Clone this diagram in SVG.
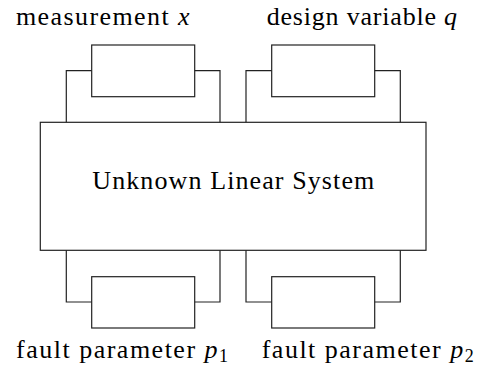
<svg xmlns="http://www.w3.org/2000/svg" width="481" height="371" viewBox="0 0 481 371">
  <rect width="481" height="371" fill="#fff"/>

  <!-- loops joining each side block to the system box -->
  <g id="connectors" fill="none" stroke="#222" stroke-width="1.2">
    <polyline points="66.3,122.3 66.3,70.7 91.7,70.7"/>
    <polyline points="194.7,70.7 220,70.7 220,122.3"/>
    <polyline points="246,122.3 246,70.7 271.7,70.7"/>
    <polyline points="374.7,70.7 400.3,70.7 400.3,122.3"/>
    <polyline points="66.3,250.3 66.3,302 91.7,302"/>
    <polyline points="194.7,302 220,302 220,250.3"/>
    <polyline points="246,250.3 246,302 271.7,302"/>
    <polyline points="374.7,302 400.3,302 400.3,250.3"/>
  </g>

  <g id="system">
    <rect x="40.3" y="122.3" width="385.7" height="128" fill="none" stroke="#222" stroke-width="1.2"/>
    <text font-family="Times New Roman, serif" font-size="26" x="92.3" y="189.3" letter-spacing="1.1">Unknown Linear System</text>
  </g>

  <g id="measurement">
    <rect x="91.7" y="45" width="103" height="51.7" fill="none" stroke="#222" stroke-width="1.2"/>
    <text font-family="Times New Roman, serif" font-size="26" x="16" y="25" letter-spacing="1.4">measurement <tspan font-style="italic">x</tspan></text>
  </g>

  <g id="design">
    <rect x="271.7" y="45" width="103" height="51.7" fill="none" stroke="#222" stroke-width="1.2"/>
    <text font-family="Times New Roman, serif" font-size="26" x="266.7" y="25" letter-spacing="0.8">design variable <tspan font-style="italic">q</tspan></text>
  </g>

  <g id="fault1">
    <rect x="91.7" y="276.7" width="103" height="51.3" fill="none" stroke="#222" stroke-width="1.2"/>
    <text font-family="Times New Roman, serif" font-size="26" x="16" y="358.3" letter-spacing="1.5">fault parameter <tspan font-style="italic">p</tspan><tspan font-size="18" dy="4">1</tspan></text>
  </g>

  <g id="fault2">
    <rect x="271.7" y="276.7" width="103" height="51.3" fill="none" stroke="#222" stroke-width="1.2"/>
    <text font-family="Times New Roman, serif" font-size="26" x="261.7" y="358.3" letter-spacing="1.5">fault parameter <tspan font-style="italic">p</tspan><tspan font-size="18" dy="4">2</tspan></text>
  </g>
</svg>
